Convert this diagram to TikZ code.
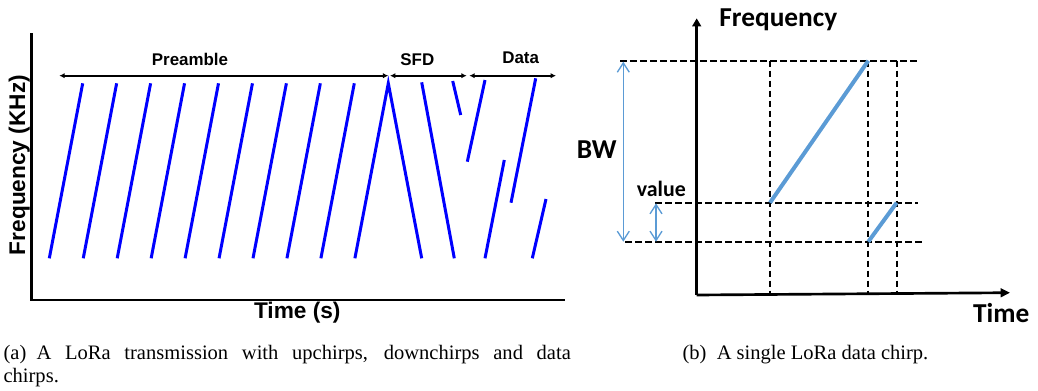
\documentclass[tikz,border=0pt]{standalone}
\usepackage{fontspec}
\setmainfont{Liberation Serif}
\newfontfamily\arialfont{Liberation Sans}
\newfontfamily\calibrifont{Carlito}
\usetikzlibrary{arrows.meta}
\definecolor{chirpblue}{RGB}{0,0,255}
\definecolor{lightchirp}{RGB}{91,155,213}
\tikzset{
  upchirp/.style={chirpblue, line width=2.25pt},
  spanarrow/.style={line width=1.2pt, {Latex[length=4pt,width=4pt]}-{Latex[length=4pt,width=4pt]}},
  axisline/.style={line width=2pt},
  guide/.style={line width=1.4pt, dash pattern=on 5pt off 2.5pt},
  datachirp/.style={lightchirp, line width=3pt},
  rangearrow/.style={lightchirp, line width=1pt, {Straight Barb[length=7pt,width=9pt]}-{Straight Barb[length=7pt,width=9pt]}},
  leftlbl/.style={font=\arialfont\bfseries\fontsize{12.7}{15}\selectfont, anchor=base, inner sep=0pt},
  rightlbl/.style={font=\calibrifont\bfseries\fontsize{20.5}{24}\selectfont, anchor=base, inner sep=0pt},
  captext/.style={font=\fontsize{15.4}{18}\selectfont, anchor=base west, inner sep=0pt}
}
\begin{document}
\begin{tikzpicture}[x=0.75pt,y=-0.75pt]
\useasboundingbox (0,0) rectangle (1038,390);

\coordinate (ytop1) at (31.7,33.3);
\coordinate (o1) at (31.7,300);
\coordinate (xend1) at (565,300);
\draw[axisline] (ytop1) -- (o1) -- (xend1);
\node[font=\arialfont\bfseries\fontsize{17}{20}\selectfont, rotate=90, anchor=base, inner sep=0pt] (freq1) at (25,165) {Frequency (KHz)};
\node[font=\arialfont\bfseries\fontsize{17}{20}\selectfont, anchor=base, inner sep=0pt] (time1) at (297.3,318) {Time (s)};

\foreach \i in {0,...,8}
  \draw[upchirp] ({49.3+33.95*\i},258.3) -- ++(33.4,-175);
\draw[upchirp] (354.9,258.3) -- (388.3,83.3) -- (421.7,258.3);
\draw[upchirp] (421.7,82.3) -- (454.3,258.3);
\draw[upchirp] (452.7,81) -- (460.7,115);
\draw[upchirp] (467.3,161.7) -- (485,80);
\draw[upchirp] (485,258.3) -- (504.3,160);
\draw[upchirp] (511,202.7) -- (535.7,78.3);
\draw[upchirp] (532.3,258.3) -- (546,199);

\coordinate (pre-l) at (59.3,75.7);
\coordinate (pre-r) at (388.3,75.7);
\coordinate (sfd-l) at (390,75.7);
\coordinate (sfd-r) at (466.7,75.7);
\coordinate (dat-l) at (469.3,75.7);
\coordinate (dat-r) at (556,75.7);
\draw[spanarrow] (pre-l) -- (pre-r);
\draw[spanarrow] (sfd-l) -- (sfd-r);
\draw[spanarrow] (dat-l) -- (dat-r);
\node[leftlbl] (preamble) at (190,65) {Preamble};
\node[leftlbl] (sfd) at (417.3,65.5) {SFD};
\node[leftlbl] (data) at (520.7,63.3) {Data};

\coordinate (o2) at (696.7,295);
\coordinate (ftip) at (696.7,18.3);
\coordinate (ttip) at (1010,292.7);
\draw[axisline, -{Triangle[length=6pt,width=6.5pt]}] (o2) -- (ftip);
\draw[axisline, -{Triangle[length=7pt,width=6.5pt]}] (o2) -- (ttip);
\node[rightlbl] (freq2) at (778.3,26.7) {Frequency};
\node[rightlbl] (time2) at (1001.3,322.7) {Time};

\draw[guide] (620,60.7) -- (916.7,60.7);
\draw[guide] (655,202.7) -- (918,202.7);
\draw[guide] (625,241.7) -- (921.7,241.7);
\draw[guide] (770,60.7) -- (770,295);
\draw[guide] (868.3,60.7) -- (868.3,295);
\draw[guide] (896.7,60.7) -- (896.7,295);

\coordinate (c1a) at (770,202.7);
\coordinate (c1b) at (868.3,60.7);
\coordinate (c2a) at (868.3,241.7);
\coordinate (c2b) at (896.7,202.7);
\draw[datachirp] (c1a) -- (c1b);
\draw[datachirp] (c2a) -- (c2b);

\coordinate (bw-t) at (623.3,61.7);
\coordinate (bw-b) at (623.3,241.7);
\coordinate (val-t) at (656,203.3);
\coordinate (val-b) at (656,241.7);
\draw[rangearrow] (bw-t) -- (bw-b);
\draw[rangearrow] (val-t) -- (val-b);
\node[rightlbl] (bw) at (596.7,158.3) {BW};
\node[rightlbl, font=\calibrifont\bfseries\fontsize{16.4}{20}\selectfont] (value) at (661.3,196) {value};

\node[captext] (capa1) at (3.3,359) {\makebox[425.5pt][s]{(a)\enskip A LoRa transmission with upchirps, downchirps and data}};
\node[captext] (capa2) at (3.3,382.7) {chirps.};
\node[captext] (capb) at (682.3,359) {(b)\enskip A single LoRa data chirp.};
\end{tikzpicture}
\end{document}
